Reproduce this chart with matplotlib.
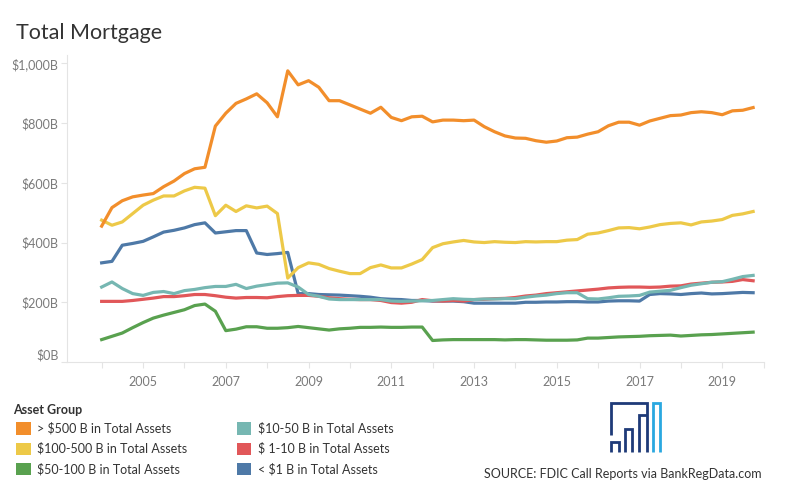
import matplotlib
matplotlib.use("Agg")
import matplotlib.pyplot as plt
import matplotlib.dates as mdates
import matplotlib.transforms as mtransforms
from matplotlib.lines import Line2D
from matplotlib.patches import Patch
import pandas as pd

# quarterly totals, $ billions, 2004 Q1 .. 2019 Q4
quarters = pd.date_range("2004-01-01", periods=64, freq="QS")

over_500 = [455, 517, 540, 553, 559, 564, 587, 606, 631, 647, 652, 790, 833, 866, 881, 898,
            868, 821, 975, 928, 942, 920, 875, 875, 861, 847, 833, 853, 819, 808, 821, 823,
            804, 810, 810, 808, 810, 788, 771, 757, 750, 749, 741, 736, 740, 751, 753, 763,
            771, 791, 803, 803, 793, 807, 816, 825, 827, 835, 838, 835, 828, 841, 843, 852]
b100_500 = [475, 458, 469, 497, 525, 542, 556, 556, 573, 585, 582, 490, 525, 504, 523, 516,
            522, 497, 281, 316, 332, 327, 313, 304, 296, 296, 316, 325, 315, 315, 328, 343,
            383, 396, 402, 407, 402, 400, 403, 401, 400, 403, 402, 403, 403, 408, 410, 428,
            432, 440, 449, 450, 446, 452, 460, 464, 466, 459, 469, 472, 477, 491, 496, 504]
b50_100 = [75, 86, 97, 115, 132, 147, 157, 166, 175, 189, 194, 170, 105, 110, 118, 118,
           113, 113, 115, 119, 115, 111, 107, 111, 113, 116, 116, 117, 116, 116, 117, 117,
           72, 74, 75, 75, 75, 75, 75, 74, 75, 75, 74, 73, 73, 73, 74, 80,
           80, 82, 84, 85, 86, 88, 89, 90, 87, 89, 91, 92, 94, 96, 98, 100]
b10_50 = [251, 268, 246, 229, 223, 233, 236, 229, 239, 243, 249, 253, 253, 260, 246, 254,
          259, 264, 265, 251, 226, 220, 211, 209, 209, 209, 209, 209, 204, 203, 204, 205,
          206, 209, 212, 210, 209, 211, 211, 212, 212, 217, 221, 224, 229, 232, 232, 212,
          211, 215, 220, 221, 223, 234, 237, 240, 249, 257, 262, 267, 269, 277, 286, 290]
b1_10 = [203, 203, 203, 206, 210, 214, 219, 219, 222, 226, 226, 222, 217, 214, 216, 216,
         215, 219, 222, 223, 223, 220, 215, 212, 210, 209, 209, 206, 199, 197, 200, 209,
         205, 204, 206, 204, 209, 210, 212, 213, 216, 221, 224, 229, 232, 235, 238, 241,
         244, 248, 250, 251, 251, 250, 251, 254, 255, 261, 264, 267, 268, 270, 276, 272]
under_1 = [332, 337, 391, 397, 404, 419, 435, 441, 449, 460, 466, 432, 436, 440, 440, 365,
           360, 363, 367, 229, 229, 226, 225, 224, 222, 220, 217, 212, 210, 209, 206, 206,
           204, 204, 204, 202, 197, 197, 197, 197, 197, 200, 200, 201, 201, 202, 202, 201,
           201, 204, 205, 205, 204, 226, 229, 228, 226, 229, 231, 228, 229, 231, 233, 232]

groups = ["> $500 B in Total Assets", "$100-500 B in Total Assets", "$50-100 B in Total Assets",
          "$10-50 B in Total Assets", "$ 1-10 B in Total Assets", "< $1 B in Total Assets"]
colors = ["#F28E2B", "#EDC948", "#59A14F", "#76B7B2", "#E15759", "#4E79A7"]
series = [over_500, b100_500, b50_100, b10_50, b1_10, under_1]
y_ticks = [0, 200, 400, 600, 800, 1000]
y_labels = ["$0B", "$200B", "$400B", "$600B", "$800B", "$1,000B"]

plt.rcParams["font.family"] = ["Lato", "DejaVu Sans"]
W, H = 800, 500
fig = plt.figure(figsize=(8, 5), dpi=100)
ax = fig.add_axes([67 / W, 1 - 362 / H, (764 - 67) / W, (362 - 55) / H])

# draw order: lower groups first so big ones sit on top
for i in [5, 2, 4, 3, 1, 0]:
    ax.plot(quarters, series[i], color=colors[i], lw=2.3, solid_joinstyle="round")

ax.set_xlim(pd.Timestamp("2003-03-01"), pd.Timestamp("2020-01-05"))
ax.set_ylim(0, 1028)
ax.set_yticks(y_ticks)
ax.set_yticklabels(y_labels)
ax.xaxis.set_major_locator(mdates.YearLocator(1))
ax.xaxis.set_major_formatter(
    plt.FuncFormatter(lambda v, p: str(mdates.num2date(v).year) if mdates.num2date(v).year % 2 else ""))

for s in ["top", "right"]:
    ax.spines[s].set_visible(False)
for s in ["left", "bottom"]:
    ax.spines[s].set_color("#e4e4e4")
    ax.spines[s].set_linewidth(0.8)
ax.tick_params(axis="both", colors="#e4e4e4", labelcolor="#7a7a7a", labelsize=9, length=4, width=0.8)
ax.tick_params(axis="y", pad=2)
ax.tick_params(axis="x", pad=6)

# tableau lifts the bottom label off the axis line
fig.canvas.draw()
lab0 = ax.get_yticklabels()[0]
lab0.set_transform(lab0.get_transform() + mtransforms.ScaledTranslation(0, 8 / 100, fig.dpi_scale_trans))

fig.text(16 / W, 1 - 33 / H, "Total Mortgage", fontsize=15.5, color="#333333", va="center")

# legend
fig.text(13 / W, 1 - 410 / H, "Asset Group", fontsize=9, color="#333333", fontweight="bold", va="center")
handles = [Patch(facecolor=c, edgecolor="none") for c in colors]
fig.legend(handles, groups, ncol=2,
           loc="upper left", bbox_to_anchor=(5 / W, 1 - 411 / H), frameon=False,
           fontsize=9, handlelength=1.15, handleheight=1.15, handletextpad=0.5,
           columnspacing=4.0, labelspacing=0.62, labelcolor="#333333")

# logo
def seg(pts, color):
    xs = [p[0] / W for p in pts]
    ys = [1 - p[1] / H for p in pts]
    fig.add_artist(Line2D(xs, ys, transform=fig.transFigure, color=color, lw=2.0,
                          solid_joinstyle="miter", solid_capstyle="butt"))

navy = "#1E3A78"
seg([(610.7, 435), (610.7, 403.3), (646.7, 403.3), (646.7, 452)], navy)
seg([(639, 452), (639, 415), (646.7, 415)], navy)
seg([(625, 452), (625, 429.3), (632.3, 429.3), (632.3, 452)], navy)
seg([(610.7, 452), (610.7, 441.7), (619.3, 441.7), (619.3, 452)], navy)
seg([(653.3, 452), (653.3, 403.3), (660, 403.3), (660, 452)], "#2AA8E0")

fig.text(762 / W, 1 - 474 / H, "SOURCE: FDIC Call Reports via BankRegData.com", fontsize=9,
         color="#333333", ha="right", va="center")

fig.savefig("out.png", dpi=100)
